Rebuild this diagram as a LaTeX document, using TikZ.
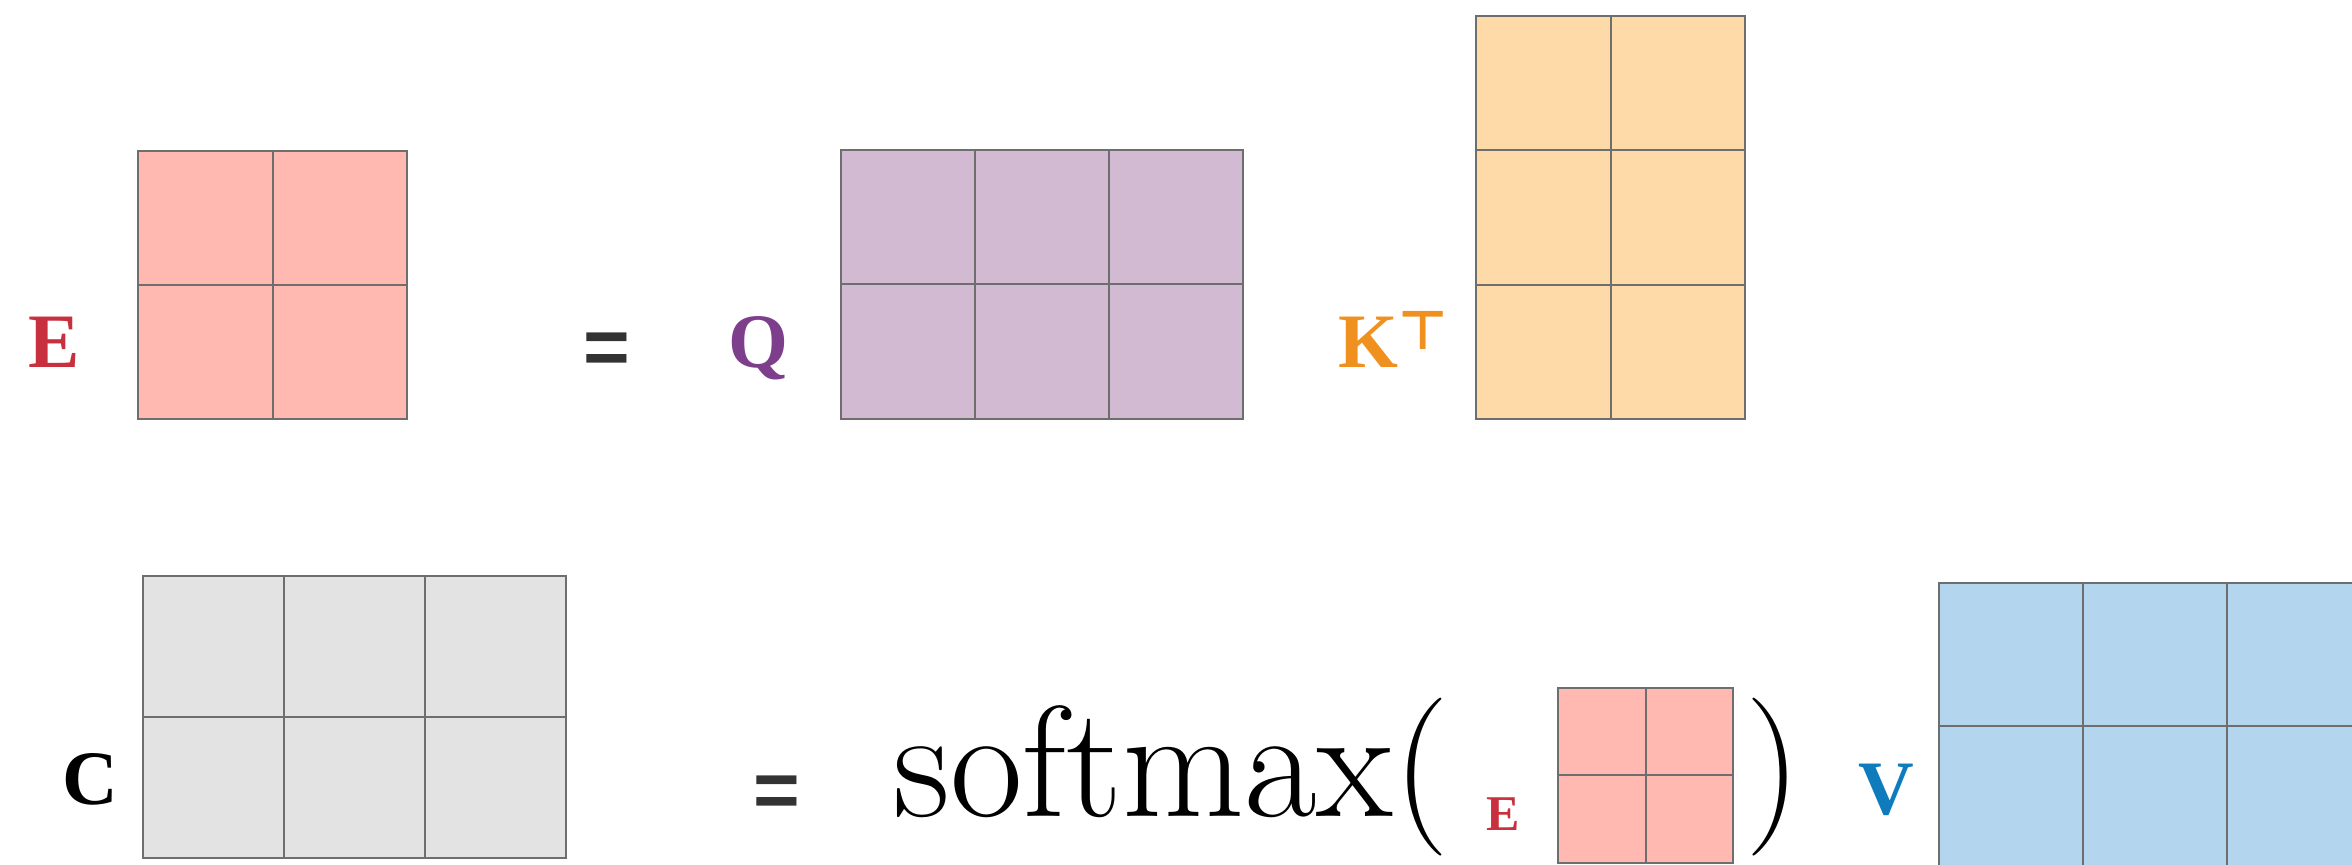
\documentclass[tikz,border=0pt]{standalone}
\usepackage{fontspec}
\setmainfont{Latin Modern Roman}
\newfontfamily\eqfont{Liberation Sans}
\newfontfamily\lblfont{Liberation Serif}
\newfontfamily\symfont{DejaVu Sans}
\definecolor{gridc}{HTML}{6E6E6E}
\definecolor{epink}{HTML}{FFB9B1}
\definecolor{qlav}{HTML}{D2BAD2}
\definecolor{korange}{HTML}{FEDAA9}
\definecolor{cgray}{HTML}{E3E3E3}
\definecolor{vblue}{HTML}{B3D5EE}
\definecolor{ered}{HTML}{C8303F}
\definecolor{qpurple}{HTML}{7D3F8C}
\definecolor{kor}{HTML}{F0901E}
\definecolor{vbl}{HTML}{0E7BBD}
\definecolor{eqgray}{HTML}{333333}
\newcommand{\mkmat}[7]{%
  \filldraw[fill=#7, gridline] (#1,#2) rectangle ++({#3*#5},{#4*#6});
  \pgfmathtruncatemacro{\mcA}{#3-1}%
  \pgfmathtruncatemacro{\mcB}{#4-1}%
  \foreach \k in {1,...,\mcA} \draw[gridline] ({#1+\k*#5},#2) -- ++(0,{#4*#6});
  \foreach \k in {1,...,\mcB} \draw[gridline] (#1,{#2+\k*#6}) -- ++({#3*#5},0);
}
\tikzset{
  gridline/.style={draw=gridc, line width=1pt},
  lbl/.style={inner sep=0pt, anchor=base, font=\lblfont\bfseries\fontsize{38.5}{42}\selectfont},
  eqsign/.style={inner sep=0pt, anchor=base, text=eqgray, font=\eqfont\bfseries\fontsize{40}{44}\selectfont},
  big/.style={inner sep=0pt, font=\fontsize{79}{90}\selectfont},
}
\begin{document}
\begin{tikzpicture}[x=0.5pt,y=-0.5pt]
\useasboundingbox (0,0) rectangle (2352,865);
\clip (0,0) rectangle (2352,865);
% top row
\mkmat{138}{151}{2}{2}{134.5}{134}{epink}
\mkmat{841}{150}{3}{2}{134}{134.5}{qlav}
\mkmat{1476}{16}{2}{3}{134.5}{134.3}{korange}
\node[lbl, text=ered] (lE) at (54,368) {E};
\node[eqsign] (eq1) at (607,375) {=};
\node[lbl, text=qpurple] (lQ) at (758,368) {Q};
\node[lbl, text=kor, anchor=base west] (lK) at (1338,368) {K\raisebox{9pt}{\symfont\bfseries\fontsize{27}{30}\selectfont ⊤}};
% bottom row
\mkmat{143}{576}{3}{2}{141}{141}{cgray}
\mkmat{1558}{688}{2}{2}{87.5}{87.5}{epink}
\mkmat{1939}{583}{3}{2}{144}{143}{vblue}
\node[lbl, text=black] (lC) at (90,805) {C};
\node[eqsign] (eq2) at (777,818) {=};
\node[big, anchor=base west] (sm) at (893,816) {softmax(};
\node[lbl, text=ered, font=\lblfont\bfseries\fontsize{25}{28}\selectfont] (lE2) at (1503,830) {E};
\node[big, anchor=base] (rp) at (1773,816) {)};
\node[lbl, text=vbl] (lV) at (1886,814) {V};
\end{tikzpicture}
\end{document}
